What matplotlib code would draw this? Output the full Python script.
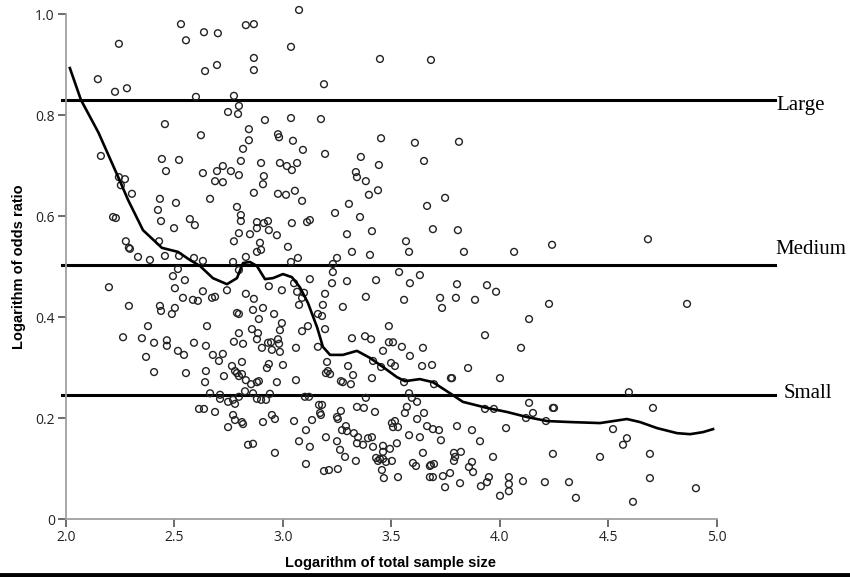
import matplotlib.pyplot as plt
from matplotlib.lines import Line2D

# log of total sample size (x) and log odds ratio (y) for each study
log_n = [
    2.147, 2.244, 2.226, 2.281, 2.161, 2.244, 2.272, 2.253, 2.304, 2.530,
    2.553, 2.636, 2.700, 2.641, 2.696, 2.829, 2.866, 2.866, 2.866, 2.599,
    2.774, 2.797, 2.793, 2.747, 2.917, 3.037, 3.037, 3.074, 2.456, 2.622,
    2.843, 2.843, 2.816, 2.442, 2.521, 2.461, 2.631, 2.696, 2.723, 2.687,
    2.723, 2.760, 2.797, 2.806, 2.899, 2.912, 2.908, 2.866, 2.977, 2.982,
    3.046, 2.986, 3.018, 3.041, 3.065, 2.977, 3.014, 3.055, 2.433, 2.664,
    3.447, 3.682, 3.189, 3.175, 3.452, 3.608, 3.811, 3.092, 3.194, 3.359,
    3.442, 3.650, 3.336, 3.341, 3.382, 3.438, 3.396, 3.747,
    2.507, 2.424, 2.438, 2.498, 2.217, 2.230, 2.571, 2.594, 2.788, 2.806,
    2.806, 2.880, 2.880, 2.797, 2.774, 2.848, 2.880, 2.429, 2.276, 2.290,
    2.295, 2.332, 2.387, 2.456, 2.521, 2.590, 2.631, 2.770, 2.829, 2.797,
    2.516, 2.493, 2.548, 2.198, 2.502, 2.631, 2.742, 2.829, 2.866, 2.539,
    2.585, 2.608, 2.673, 2.687, 2.290, 2.433, 2.438, 2.502, 2.488, 2.788,
    2.797, 2.862, 2.378, 2.650, 2.857, 2.797, 2.263, 2.350, 2.406, 2.465,
    2.465, 2.590, 2.645, 2.774, 2.816, 2.880,
    2.516, 2.544, 2.369, 2.406, 2.553, 2.677, 2.723, 2.705, 2.811, 2.765,
    2.779, 2.788, 2.797, 2.811, 2.645, 2.641, 2.728, 2.829, 2.853, 2.880,
    2.664, 2.710, 2.710, 2.747, 2.770, 2.779, 2.797, 2.825, 2.862, 2.880,
    2.613, 2.636, 2.687, 2.770, 2.779, 2.811, 2.816, 2.747, 2.839, 2.862,
    2.963, 2.908, 2.949, 2.963, 3.051, 3.074, 2.899, 2.922,
    3.088, 3.304, 3.240, 3.355, 3.664, 2.912, 2.931, 2.935, 2.972, 3.041,
    3.111, 3.124, 2.894, 2.899, 3.023, 3.069, 3.037, 3.295, 3.410, 3.318,
    3.401, 3.567, 3.581, 3.249, 3.230, 3.230, 3.124, 3.226, 3.295, 3.429,
    3.535, 3.585, 3.631, 2.935, 2.995, 3.051, 3.065, 3.088, 3.097, 3.194,
    3.184, 3.074, 2.908, 2.959, 2.889, 2.995, 2.986, 2.885, 3.161, 3.180,
    3.194, 3.115, 3.088, 3.276, 3.382, 3.558, 3.488, 2.931, 2.945, 2.977,
    2.982, 2.903, 3.060, 3.161, 3.318, 3.378, 3.406, 3.488, 3.507, 3.548,
    3.645,
    2.949, 2.986, 2.926, 2.935, 3.000, 2.889, 2.972, 3.060, 3.203, 3.207,
    3.198, 3.217, 3.300, 3.323, 3.267, 3.276, 3.313, 3.410, 3.415, 3.452,
    3.461, 3.585, 3.498, 3.516, 3.558, 3.641, 2.940, 3.101, 3.120, 3.134,
    3.106, 3.124, 3.106, 3.166, 3.180, 3.171, 3.175, 3.198, 3.249, 3.253,
    3.267, 3.249, 3.263, 3.286, 3.189, 3.212, 3.253, 3.336, 3.272, 3.290,
    3.295, 3.327, 3.346, 3.341, 3.369, 3.392, 3.410, 3.341, 3.373, 3.382,
    3.424, 3.415, 3.461, 3.493, 3.461, 3.429, 3.447, 3.438, 3.461, 3.475,
    3.502, 3.456, 3.465, 3.530, 3.502, 3.516, 3.530, 3.507, 3.525, 3.562,
    3.571, 3.581, 3.594, 3.618, 3.581, 3.618, 3.650, 3.664, 3.631, 3.645,
    3.599, 3.613, 3.677, 3.677,
    3.691, 3.806, 3.834, 4.065, 4.240, 3.802, 3.940, 3.982, 3.724, 3.733,
    3.797, 3.885, 4.226, 4.134, 3.931, 4.097, 3.687, 3.853, 3.774, 3.779,
    4.000, 3.696, 3.691, 3.719, 3.728, 3.802, 3.871, 3.908, 4.028, 3.931,
    3.972, 4.134, 4.152, 4.120, 4.244, 4.249, 4.212, 3.788, 3.820, 3.793,
    3.788, 3.857, 3.871, 3.876, 3.682, 3.696, 3.691, 3.737, 3.770, 3.747,
    3.816, 3.912, 3.940, 3.949, 3.968, 4.000, 4.041, 4.041, 4.041, 4.106,
    4.207, 4.244, 4.318, 4.350, 4.461, 4.682, 4.862, 4.594, 4.705, 4.521,
    4.585, 4.567, 4.691, 4.691, 4.903, 4.613,
]
log_or = [
    0.871, 0.941, 0.846, 0.853, 0.719, 0.677, 0.673, 0.661, 0.644, 0.980,
    0.948, 0.964, 0.962, 0.887, 0.899, 0.978, 0.980, 0.913, 0.889, 0.836,
    0.838, 0.818, 0.802, 0.806, 0.790, 0.935, 0.794, 1.008, 0.782, 0.760,
    0.772, 0.750, 0.733, 0.713, 0.711, 0.689, 0.685, 0.689, 0.699, 0.669,
    0.667, 0.689, 0.681, 0.709, 0.705, 0.679, 0.663, 0.646, 0.762, 0.756,
    0.749, 0.705, 0.699, 0.691, 0.705, 0.644, 0.642, 0.650, 0.634, 0.634,
    0.911, 0.909, 0.861, 0.792, 0.754, 0.745, 0.747, 0.731, 0.723, 0.717,
    0.701, 0.709, 0.687, 0.677, 0.669, 0.651, 0.642, 0.636,
    0.626, 0.612, 0.590, 0.576, 0.598, 0.596, 0.594, 0.582, 0.618, 0.602,
    0.590, 0.588, 0.576, 0.566, 0.550, 0.564, 0.529, 0.550, 0.550, 0.537,
    0.535, 0.519, 0.513, 0.521, 0.521, 0.517, 0.511, 0.509, 0.519, 0.493,
    0.495, 0.481, 0.473, 0.459, 0.457, 0.451, 0.453, 0.446, 0.436, 0.438,
    0.434, 0.432, 0.438, 0.440, 0.422, 0.422, 0.412, 0.418, 0.406, 0.408,
    0.406, 0.414, 0.382, 0.382, 0.376, 0.368, 0.360, 0.358, 0.349, 0.354,
    0.343, 0.349, 0.343, 0.351, 0.347, 0.356,
    0.333, 0.325, 0.321, 0.291, 0.289, 0.325, 0.327, 0.313, 0.311, 0.303,
    0.293, 0.289, 0.283, 0.287, 0.293, 0.271, 0.283, 0.275, 0.267, 0.271,
    0.249, 0.246, 0.238, 0.232, 0.236, 0.228, 0.242, 0.253, 0.249, 0.238,
    0.218, 0.218, 0.212, 0.206, 0.196, 0.192, 0.188, 0.182, 0.147, 0.149,
    0.131, 0.192, 0.206, 0.198, 0.194, 0.154, 0.236, 0.236,
    0.630, 0.624, 0.606, 0.598, 0.620, 0.586, 0.590, 0.572, 0.562, 0.586,
    0.588, 0.592, 0.547, 0.533, 0.539, 0.517, 0.509, 0.564, 0.570, 0.529,
    0.523, 0.550, 0.529, 0.517, 0.505, 0.489, 0.475, 0.467, 0.471, 0.473,
    0.489, 0.467, 0.483, 0.461, 0.453, 0.467, 0.450, 0.438, 0.448, 0.446,
    0.424, 0.424, 0.418, 0.406, 0.396, 0.388, 0.374, 0.368, 0.406, 0.402,
    0.376, 0.382, 0.372, 0.420, 0.440, 0.434, 0.382, 0.349, 0.350, 0.356,
    0.347, 0.339, 0.339, 0.341, 0.358, 0.362, 0.356, 0.350, 0.350, 0.341,
    0.339,
    0.335, 0.331, 0.299, 0.307, 0.305, 0.273, 0.271, 0.275, 0.311, 0.293,
    0.289, 0.287, 0.303, 0.285, 0.273, 0.271, 0.267, 0.279, 0.313, 0.301,
    0.333, 0.323, 0.309, 0.303, 0.271, 0.303, 0.248, 0.242, 0.242, 0.196,
    0.176, 0.143, 0.109, 0.226, 0.226, 0.210, 0.206, 0.162, 0.202, 0.198,
    0.214, 0.154, 0.137, 0.123, 0.095, 0.097, 0.099, 0.115, 0.176, 0.184,
    0.174, 0.170, 0.162, 0.150, 0.147, 0.160, 0.162, 0.222, 0.220, 0.240,
    0.212, 0.143, 0.145, 0.139, 0.133, 0.121, 0.119, 0.115, 0.119, 0.113,
    0.115, 0.097, 0.081, 0.083, 0.190, 0.194, 0.182, 0.182, 0.150, 0.210,
    0.222, 0.249, 0.240, 0.232, 0.166, 0.198, 0.210, 0.184, 0.162, 0.131,
    0.111, 0.105, 0.105, 0.083,
    0.574, 0.572, 0.529, 0.529, 0.543, 0.465, 0.463, 0.450, 0.438, 0.418,
    0.438, 0.434, 0.426, 0.396, 0.364, 0.339, 0.305, 0.299, 0.279, 0.279,
    0.279, 0.267, 0.178, 0.176, 0.156, 0.184, 0.176, 0.154, 0.180, 0.218,
    0.218, 0.230, 0.210, 0.200, 0.220, 0.220, 0.194, 0.131, 0.133, 0.123,
    0.115, 0.103, 0.113, 0.093, 0.107, 0.109, 0.083, 0.085, 0.091, 0.063,
    0.071, 0.065, 0.073, 0.083, 0.123, 0.046, 0.083, 0.069, 0.055, 0.075,
    0.073, 0.129, 0.073, 0.042, 0.123, 0.554, 0.426, 0.251, 0.220, 0.178,
    0.160, 0.147, 0.129, 0.081, 0.061, 0.034,
]

# smoothed (loess-like) trend
fit_x = [2.018, 2.069, 2.150, 2.249, 2.286, 2.355, 2.442, 2.516, 2.571, 2.618,
         2.677, 2.742, 2.788, 2.816, 2.848, 2.880, 2.917, 2.954, 3.000, 3.041,
         3.078, 3.115, 3.157, 3.184, 3.217, 3.276, 3.341, 3.401, 3.461, 3.525,
         3.562, 3.631, 3.691, 3.770, 3.829, 3.940, 4.032, 4.124, 4.217, 4.323,
         4.461, 4.585, 4.645, 4.724, 4.816, 4.876, 4.935, 4.982]
fit_y = [0.893, 0.830, 0.765, 0.669, 0.632, 0.572, 0.537, 0.529, 0.513, 0.501,
         0.477, 0.465, 0.477, 0.507, 0.509, 0.501, 0.475, 0.477, 0.485, 0.479,
         0.459, 0.428, 0.380, 0.341, 0.325, 0.325, 0.333, 0.319, 0.301, 0.281,
         0.273, 0.277, 0.271, 0.249, 0.232, 0.220, 0.212, 0.202, 0.194, 0.192,
         0.190, 0.198, 0.192, 0.180, 0.170, 0.168, 0.172, 0.178]

# effect size benchmarks
bench_names = ['Large', 'Medium', 'Small']
bench_values = [0.830, 0.503, 0.2455]

assert len(log_n) == len(log_or)

fig = plt.figure(figsize=(8.5, 5.77), dpi=100)
ax = fig.add_axes([0.0776, 0.1005, 0.7659, 0.8752])

ax.scatter(log_n, log_or, s=24, facecolors='none', edgecolors='#222222',
           linewidths=1.0, clip_on=False, zorder=3)
ax.plot(fit_x, fit_y, color='black', lw=1.9, zorder=4, clip_on=False)

label_dx = [0.0, -0.003, 0.010]
label_dy = [-0.012, 0.030, 0.003]
for name, val, dx, dy in zip(bench_names, bench_values, label_dx, label_dy):
    ax.axhline(val, xmin=-0.006, xmax=1.089, color='black', lw=2.2,
               clip_on=False, zorder=2)
    ax.text(1.092 + dx, val + dy, name, transform=ax.get_yaxis_transform(),
            ha='left', va='center', fontsize=15, family='Liberation Serif')

ax.set_xlim(2.0, 5.0)
ax.set_ylim(0, 1.0)
ax.set_xticks([2.0, 2.5, 3.0, 3.5, 4.0, 4.5, 5.0])
ax.set_xticklabels(['2.0', '2.5', '3.0', '3.5', '4.0', '4.5', '5.0'])
ax.set_yticks([0, 0.2, 0.4, 0.6, 0.8, 1.0])
ax.set_yticklabels(['0', '0.2', '0.4', '0.6', '0.8', '1.0'])

for side in ['top', 'right']:
    ax.spines[side].set_visible(False)
for side in ['left', 'bottom']:
    ax.spines[side].set_color('#a0a0a0')
    ax.spines[side].set_linewidth(1.3)
ax.tick_params(length=6, width=1.1, color='#444444', labelsize=10,
               labelcolor='#222222', pad=2)
for lab in ax.get_xticklabels() + ax.get_yticklabels():
    lab.set_family('Open Sans')

ax.set_xlabel('Logarithm of total sample size', fontsize=10.5,
              fontweight='bold', family='Liberation Sans')
ax.set_ylabel('Logarithm of odds ratio', fontsize=10.5,
              fontweight='bold', family='Liberation Sans')
ax.xaxis.set_label_coords(0.498, -0.074)
ax.yaxis.set_label_coords(-0.062, 0.5)

fig.add_artist(Line2D([0, 1], [0.004, 0.004], transform=fig.transFigure,
                      color='black', lw=3.5))

fig.savefig('out.png', dpi=100)
